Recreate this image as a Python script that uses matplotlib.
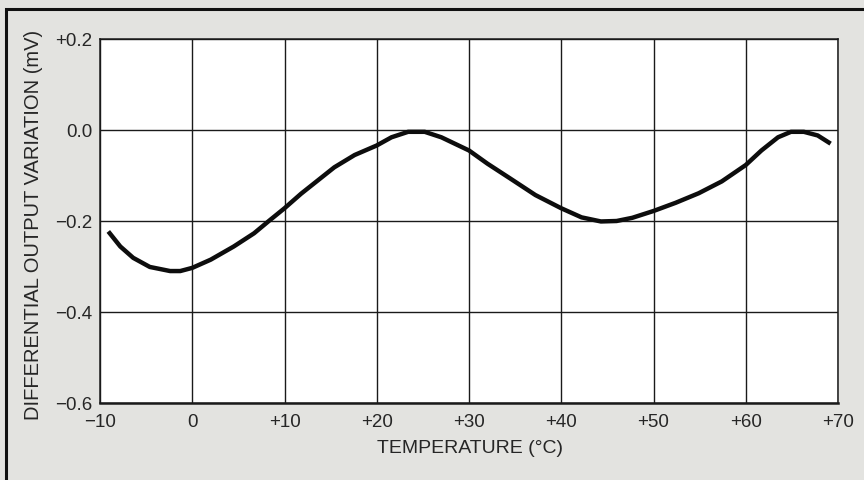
import matplotlib
matplotlib.use("Agg")
import matplotlib.pyplot as plt
from matplotlib.patches import Rectangle

# Differential output variation versus temperature
temperature_c = [-9.1, -7.8, -6.4, -4.6, -2.4, -1.3, 0.0, 2.0, 4.5, 6.7, 8.3,
                 10.0, 11.8, 13.6, 15.4, 17.6, 20.0, 21.6, 23.4, 25.2, 27.0,
                 30.0, 32.0, 34.5, 37.2, 40.0, 42.2, 44.3, 46.0, 47.7, 50.0,
                 52.4, 54.9, 57.4, 60.0, 61.7, 63.5, 64.9, 66.3, 67.8, 69.2]
variation_mv = [-0.223, -0.256, -0.281, -0.301, -0.310, -0.310, -0.303,
                -0.285, -0.256, -0.227, -0.200, -0.172, -0.140, -0.111,
                -0.082, -0.055, -0.034, -0.016, -0.004, -0.004, -0.016,
                -0.045, -0.074, -0.107, -0.143, -0.172, -0.192, -0.201,
                -0.200, -0.193, -0.178, -0.160, -0.139, -0.113, -0.077,
                -0.045, -0.016, -0.004, -0.004, -0.012, -0.030]

x_ticks = [-10, 0, 10, 20, 30, 40, 50, 60, 70]
x_tick_labels = ["\u221210", "0", "+10", "+20", "+30", "+40", "+50", "+60", "+70"]
y_ticks = [-0.6, -0.4, -0.2, 0.0, 0.2]
y_tick_labels = ["\u22120.6", "\u22120.4", "\u22120.2", "0.0", "+0.2"]

plt.rcParams["font.family"] = ["Liberation Sans", "DejaVu Sans"]

W, H = 864, 481
TEXT = "#262626"
fig = plt.figure(figsize=(W / 100, H / 100), dpi=100, facecolor="#e3e3e0")

# Outer frame running off the right and bottom edges
frame = Rectangle((6 / W, -0.05), 1.2, 1 - 10 / H + 0.05, transform=fig.transFigure,
                  fill=False, edgecolor="#111111", linewidth=2.2, zorder=0)
fig.patches.append(frame)

ax = fig.add_axes([100 / W, 1 - 404 / H, 738 / W, 364 / H])
ax.set_facecolor("white")
ax.set_xlim(-10, 70)
ax.set_ylim(-0.6, 0.2)

ax.set_xticks(x_ticks)
ax.set_xticklabels(x_tick_labels)
ax.set_yticks(y_ticks)
ax.set_yticklabels(y_tick_labels)
ax.tick_params(axis="both", length=0, labelsize=13.5, colors=TEXT)
ax.tick_params(axis="x", pad=7.5)
ax.tick_params(axis="y", pad=5.5)

ax.grid(True, color="#1a1a1a", linewidth=1.0)
ax.set_axisbelow(True)
for side in ("left", "top", "right"):
    ax.spines[side].set_linewidth(1.1)
    ax.spines[side].set_color("#1a1a1a")
ax.spines["bottom"].set_linewidth(1.8)
ax.spines["bottom"].set_color("#1a1a1a")

ax.plot(temperature_c, variation_mv, color="#0d0d0d", linewidth=3.2,
        solid_capstyle="butt", solid_joinstyle="round", zorder=3)

fig.text(470 / W, 1 - 449 / H, "TEMPERATURE (\u00b0C)", ha="center", va="center",
         fontsize=14, color=TEXT)
fig.text(34 / W, 1 - 225 / H, "DIFFERENTIAL OUTPUT VARIATION (mV)", rotation=90,
         ha="center", va="center", fontsize=14.5, color=TEXT)

fig.savefig("out.png", dpi=100, facecolor=fig.get_facecolor())
